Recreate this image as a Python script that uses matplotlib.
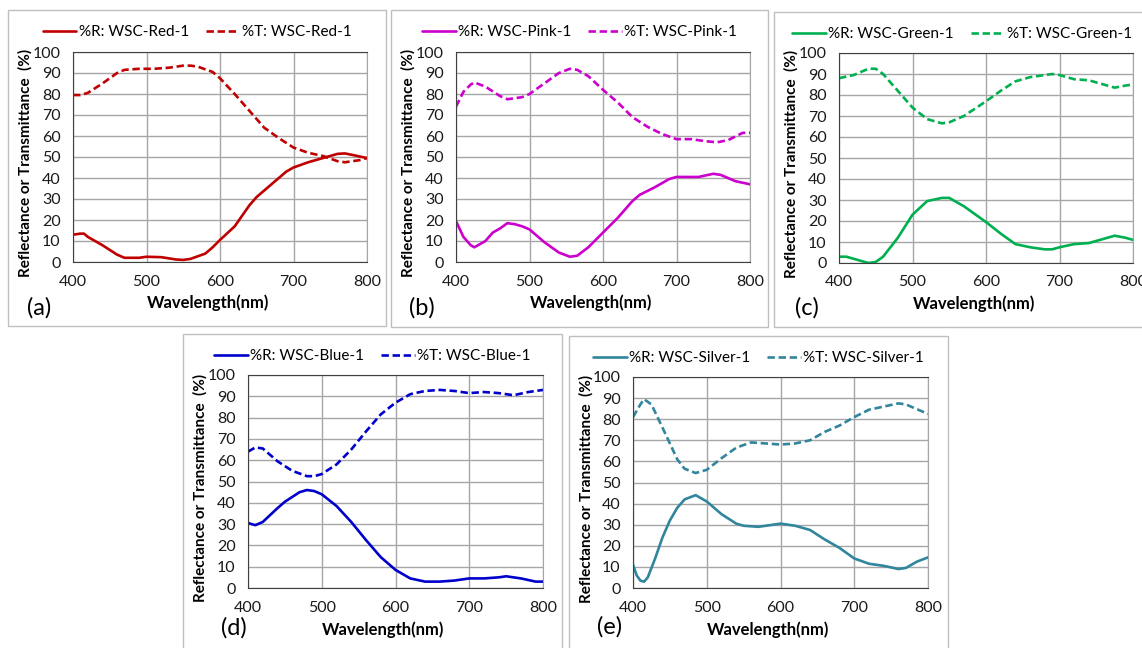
import matplotlib.pyplot as plt
from matplotlib.patches import Rectangle

W, H = 1142, 648

# ---- data ----
red_wl_R = [400, 410, 415, 420, 440, 460, 470, 490, 500, 520, 540, 550, 560, 580, 590, 600,
            620, 640, 650, 670, 690, 700, 720, 740, 760, 770, 780, 800]
red_R = [13, 13.5, 13.5, 12, 8, 3.5, 2, 2, 2.5, 2.3, 1.2, 1, 1.5, 4, 7, 10.5,
         17, 27, 31, 37, 43, 45, 47.5, 49.5, 51.5, 51.7, 51, 49.5]
red_wl_T = [400, 410, 420, 440, 460, 470, 490, 510, 530, 550, 560, 570, 590, 600,
            620, 640, 660, 680, 700, 720, 740, 760, 770, 790, 800]
red_T = [79.5, 79.5, 80.5, 85, 90, 91.5, 92, 92, 92.5, 93.5, 93.5, 93, 90.5, 87.5,
         80, 72, 64, 59, 54.5, 52, 50.5, 48, 47.5, 48.5, 49.5]

pink_wl_R = [400, 410, 420, 425, 440, 450, 460, 470, 480, 490, 500, 520, 540, 555, 565, 580,
             600, 620, 640, 650, 670, 690, 700, 720, 730, 750, 760, 780, 800]
pink_R = [19.5, 12, 8, 7, 10, 14, 16, 18.5, 18, 17, 15.5, 9.5, 4.5, 2.5, 3, 7,
          14, 21, 29, 32, 35.5, 39.5, 40.5, 40.5, 40.5, 42, 41.5, 38.5, 37]
pink_wl_T = [400, 410, 420, 425, 440, 460, 470, 490, 500, 520, 540, 555, 565, 580,
             600, 620, 640, 660, 680, 700, 720, 740, 755, 770, 790, 800]
pink_T = [74, 81, 84.5, 85.5, 83.5, 79, 77.5, 78.5, 80, 85, 90, 92, 91.5, 88.5,
          82, 76, 69, 64.5, 61, 58.5, 58.5, 57.5, 57, 58, 61.5, 61.5]

green_wl_R = [400, 410, 430, 440, 450, 460, 480, 500, 520, 540, 550, 570, 600, 620, 640,
              660, 680, 690, 700, 720, 740, 760, 775, 790, 800]
green_R = [3, 3, 1, 0, 0.5, 3, 12, 23, 29.5, 31, 31, 27, 19.5, 14, 9,
           7.5, 6.5, 6.5, 7.5, 9, 9.5, 11.5, 13, 12, 11]
green_wl_T = [400, 420, 440, 450, 460, 480, 500, 520, 540, 550, 570, 600, 620, 640,
              660, 690, 700, 720, 740, 760, 775, 790, 800]
green_T = [88, 89.5, 92.5, 92.5, 90, 82, 74, 68.5, 66.5, 67, 70, 77, 82, 86.5,
           88.5, 90, 89.5, 87.5, 87, 85, 83.5, 84.5, 85]

blue_wl_R = [400, 410, 420, 440, 450, 470, 480, 490, 500, 520, 540, 560, 580, 600, 620,
             640, 660, 680, 700, 720, 740, 750, 770, 790, 800]
blue_R = [30.5, 29.5, 31, 37.5, 40.5, 45, 46, 45.5, 44, 38.5, 31, 22.5, 14.5, 8.5, 4.5,
          3, 3, 3.5, 4.5, 4.5, 5, 5.5, 4.5, 3, 3]
blue_wl_T = [400, 410, 420, 440, 460, 480, 490, 500, 520, 540, 560, 580, 600, 620,
             640, 660, 680, 700, 720, 740, 760, 780, 800]
blue_T = [64, 66, 65.5, 59.5, 55, 52.5, 52.5, 53.5, 58, 65, 73.5, 81.5, 87, 91,
          92.5, 93, 92.5, 91.5, 92, 91.5, 90.5, 92, 93]

silver_wl_R = [400, 405, 410, 415, 420, 430, 440, 450, 460, 470, 485, 500, 520, 540, 550,
               570, 590, 600, 620, 640, 660, 680, 700, 720, 740, 760, 770, 785, 800]
silver_R = [11, 6, 3.5, 3, 5, 14, 24, 32, 38, 42, 44, 41, 35, 30.5, 29.5,
            29, 30, 30.5, 29.5, 27.5, 23, 19, 14, 11.5, 10.5, 9, 9.5, 12.5, 14.5]
silver_wl_T = [400, 410, 415, 425, 440, 460, 470, 485, 500, 520, 540, 560, 580, 600,
               620, 640, 660, 680, 700, 720, 740, 760, 770, 790, 800]
silver_T = [81, 87, 89.5, 87, 76, 61, 56.5, 54.5, 56, 61.5, 66.5, 69, 68.5, 68,
            68.5, 70, 74, 77, 81, 84.5, 86, 87.5, 87, 84, 82.5]

x_ticks = [400, 500, 600, 700, 800]
y_ticks = list(range(0, 101, 10))

plt.rcParams['font.family'] = ['Lato', 'DejaVu Sans']

fig = plt.figure(figsize=(W / 100, H / 100), dpi=100)


def fx(px):
    return px / W


def fy(py):
    return 1 - py / H


def panel(box, axrect, name, color, wl_R, R, wl_T, T, tag, tag_xy, xlab_y):
    bx0, by0, bx1, by1 = box
    fig.patches.append(Rectangle((fx(bx0), fy(by1)), fx(bx1 - bx0), (by1 - by0) / H,
                                 transform=fig.transFigure, fill=False,
                                 edgecolor='#BFBFBF', lw=1.0, zorder=0))
    x0, y0, x1, y1 = axrect
    ax = fig.add_axes([fx(x0), fy(y1), fx(x1 - x0), (y1 - y0) / H])
    lR, = ax.plot(wl_R, R, color=color, lw=1.9, solid_capstyle='round')
    lT, = ax.plot(wl_T, T, color=color, lw=1.9, linestyle=(0, (2.8, 1.4)))
    ax.set_xlim(400, 800)
    ax.set_ylim(0, 100)
    ax.set_xticks(x_ticks)
    ax.set_yticks(y_ticks)
    ax.grid(True, color='#A6A6A6', lw=1.0)
    ax.set_axisbelow(True)
    ax.tick_params(length=0, labelsize=11.5, colors='#1a1a1a')
    ax.tick_params(axis='y', pad=9)
    ax.tick_params(axis='x', pad=9)
    for s in ax.spines.values():
        s.set_color('#A6A6A6')
    ax.spines['left'].set_color('#404040')
    ax.spines['bottom'].set_color('#404040')
    ax.spines['top'].set_color('#404040')

    cx = (bx0 + bx1) / 2
    fig.legend([lR, lT], [f'%R: {name}', f'%T: {name}'], loc='center',
               bbox_to_anchor=(fx(cx), fy(by0 + 22)), ncol=2, frameon=False,
               fontsize=11, handlelength=2.2, handletextpad=0.15,
               columnspacing=1.1, borderpad=0)
    fig.text(fx(bx0 + 17), fy((y0 + y1) / 2 + 6), 'Reflectance or Transmittance  (%)',
             rotation=90, ha='center', va='center', fontsize=11, fontweight='bold')
    fig.text(fx((x0 + x1) / 2 - 12), fy(xlab_y), 'Wavelength(nm)', ha='center',
             va='center', fontsize=12, fontweight='bold')
    fig.text(fx(tag_xy[0]), fy(tag_xy[1]), tag, ha='left', va='center', fontsize=17)
    return ax


panel((8, 10, 386, 326), (73, 52, 367, 262), 'WSC-Red-1', '#C00000',
      red_wl_R, red_R, red_wl_T, red_T, '(a)', (27, 308), 303)
panel((391, 10, 768, 327), (456, 52, 750, 262), 'WSC-Pink-1', '#CC00CC',
      pink_wl_R, pink_R, pink_wl_T, pink_T, '(b)', (409, 308), 303)
panel((774, 12, 1150, 327), (839, 53, 1133, 263), 'WSC-Green-1', '#00B050',
      green_wl_R, green_R, green_wl_T, green_T, '(c)', (795, 308), 304)
panel((183, 334, 562, 660), (248, 375, 543, 588), 'WSC-Blue-1', '#0000CC',
      blue_wl_R, blue_R, blue_wl_T, blue_T, '(d)', (221, 628), 630)
panel((569, 336, 948, 660), (633, 377, 928, 588), 'WSC-Silver-1', '#31859C',
      silver_wl_R, silver_R, silver_wl_T, silver_T, '(e)', (597, 627), 630)

fig.savefig('out.png', dpi=100)
